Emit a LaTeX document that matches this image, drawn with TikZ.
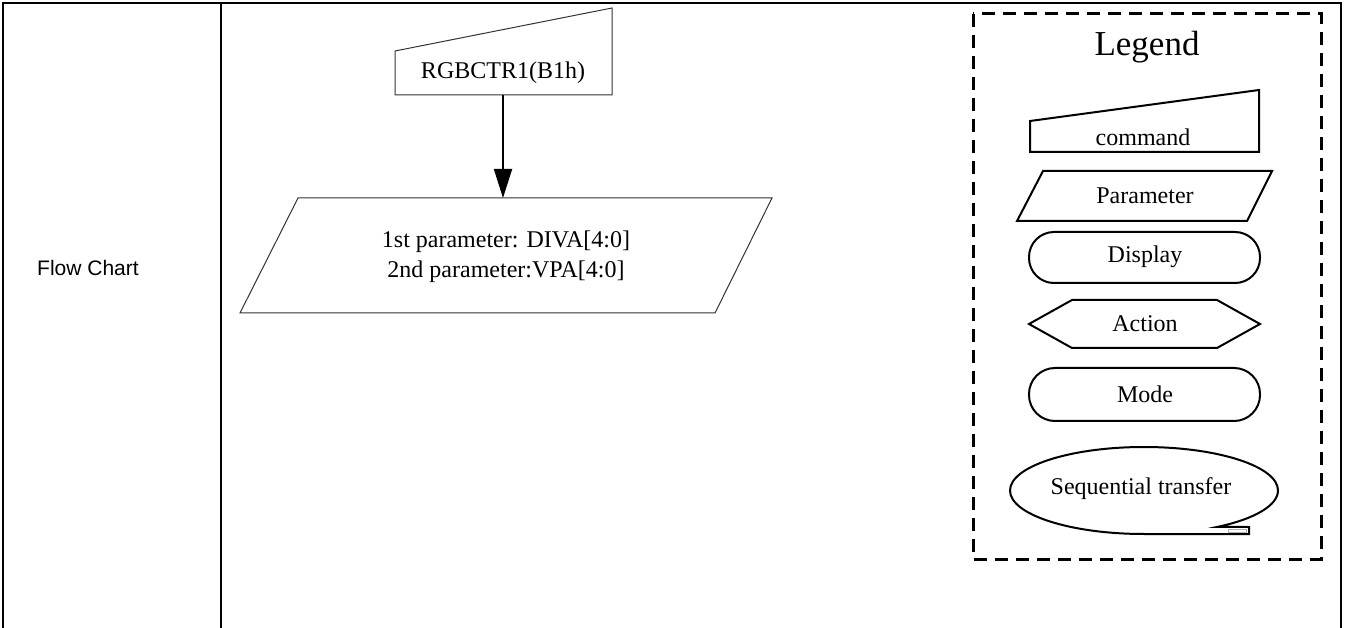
\documentclass[tikz,border=0pt]{standalone}
\usepackage{fontspec}
\setmainfont{Liberation Serif}
\newfontfamily\arialf{Liberation Sans}
\usetikzlibrary{arrows.meta}
\begin{document}
\begin{tikzpicture}[x=1pt,y=-1pt,
  tableline/.style={line width=2pt,black},
  thinshape/.style={draw=black!80,line width=1pt},
  legshape/.style={draw=black,line width=2pt},
  legbox/.style={draw=black,line width=3pt,dash pattern=on 13pt off 8pt},
  txt/.style={font=\fontsize{24}{30}\selectfont,align=center,inner sep=0pt},
  legtxt/.style={font=\fontsize{24}{28}\selectfont,inner sep=0pt},
  conn/.style={line width=1.8pt,-{Triangle[length=29pt,width=18pt]}}]
\useasboundingbox (0,0) rectangle (1345,628);
% table
\draw[tableline] (3,628) -- (3,3) -- (1341,3) -- (1341,628);
\draw[tableline] (221,3) -- (221,628);
\node[font=\arialf\fontsize{21}{24}\selectfont,anchor=west,inner sep=0pt] (fc) at (37,268) {Flow Chart};
% command shape
\draw[thinshape] (395,95) -- (395,51) -- (612,8) -- (612,95) -- cycle;
\node[txt] (cmd) at (503,73) {RGBCTR1(B1h)};
\coordinate (cmdb) at (503,95);
% parameter shape
\draw[thinshape] (298,198) -- (772,198) -- (715,313) -- (240,313) -- cycle;
\node[txt] (par) at (506,257) {1st parameter: DIVA[4:0]\\2nd parameter:VPA[4:0]};
\coordinate (part) at (503,198);
\draw[conn] (cmdb) -- (part);
% legend
\draw[legbox] (973,14) rectangle (1321,559);
\node[font=\fontsize{35}{40}\selectfont,inner sep=0pt] (leg) at (1147,47) {Legend};
\draw[legshape] (1030,152) -- (1030,121) -- (1259,90) -- (1259,152) -- cycle;
\node[legtxt] (lcmd) at (1143,137) {command};
\draw[legshape] (1043,171) -- (1272,171) -- (1247,221) -- (1017,221) -- cycle;
\node[legtxt] (lpar) at (1145,196) {Parameter};
\draw[legshape,rounded corners=25pt] (1029,232) rectangle (1260,283);
\node[legtxt] (ldisp) at (1145,257) {Display};
\draw[legshape] (1029,324) -- (1072,300) -- (1217,300) -- (1260,324) -- (1217,348) -- (1072,348) -- cycle;
\node[legtxt] (lact) at (1145,324) {Action};
\draw[legshape,rounded corners=26pt] (1029,368) rectangle (1260,421);
\node[legtxt] (lmode) at (1145,394) {Mode};
\draw[legshape] (1144,534) arc[start angle=-90,end angle=-417,x radius=134pt,y radius=43.5pt] -- (1249,527) -- (1249,534) -- cycle;
\draw[black!30,line width=0.6pt] (1228,529) rectangle (1246,532);
\node[legtxt] (lseq) at (1141,489) {Sequential transfer};
\end{tikzpicture}
\end{document}
